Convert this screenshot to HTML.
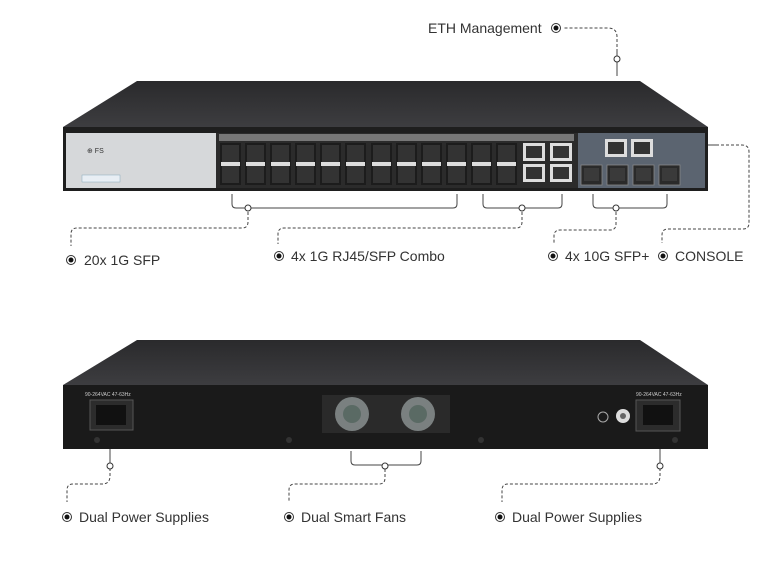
<!DOCTYPE html>
<html><head><meta charset="utf-8"><style>
body{margin:0;background:#fff;}
svg{display:block}
text{font-family:"Liberation Sans","DejaVu Sans",sans-serif;font-size:14px;fill:#333}
</style></head><body>
<svg width="783" height="570" viewBox="0 0 783 570" xmlns="http://www.w3.org/2000/svg">
<defs>
<linearGradient id="top" x1="0" y1="0" x2="0" y2="1"><stop offset="0" stop-color="#2a2a2c"/><stop offset="1" stop-color="#3d3d40"/></linearGradient>
<g id="sfp"><rect width="21" height="42" fill="#1c1c1c"/><rect x="2" y="2" width="17" height="17" fill="#333"/><rect x="2" y="23" width="17" height="17" fill="#333"/><rect x="1" y="19" width="19" height="4" fill="#ddd"/></g>
<g id="sfp1"><rect width="21" height="20" fill="#2a2a2a" stroke="#888" stroke-width="0.8"/><rect x="3" y="3" width="15" height="13" fill="#3a3a3a"/></g>
<g id="rj"><rect width="22" height="18" fill="#ddd"/><rect x="3" y="3" width="16" height="12" fill="#333"/></g>
<g id="dot"><circle r="4.5" fill="#fff" stroke="#333" stroke-width="1"/><circle r="2.5" fill="#111"/></g>
</defs>

<polygon points="137,81 640,81 708,127 63,127" fill="url(#top)"/>
<rect x="63" y="127" width="645" height="64" fill="#1e1e1e"/>
<rect x="66" y="133" width="150" height="55" fill="#d6d8da"/>
<text x="87" y="153" style="font-size:7px;fill:#333">⊕ FS</text>
<rect x="82" y="175" width="38" height="7" fill="#e8eef4" stroke="#8ab" stroke-width="0.5"/>
<rect x="216" y="133" width="362" height="55" fill="#2b2b2b"/>
<rect x="219" y="134" width="355" height="7" fill="#777"/>
<use href="#sfp" x="220" y="143"/><use href="#sfp" x="245" y="143"/><use href="#sfp" x="270" y="143"/><use href="#sfp" x="295" y="143"/>
<use href="#sfp" x="320" y="143"/><use href="#sfp" x="345" y="143"/><use href="#sfp" x="371" y="143"/><use href="#sfp" x="396" y="143"/>
<use href="#sfp" x="421" y="143"/><use href="#sfp" x="446" y="143"/><use href="#sfp" x="471" y="143"/><use href="#sfp" x="496" y="143"/>
<use href="#rj" x="523" y="143"/><use href="#rj" x="523" y="164"/><use href="#rj" x="550" y="143"/><use href="#rj" x="550" y="164"/>
<rect x="578" y="133" width="127" height="55" fill="#5b6470"/>
<use href="#rj" x="605" y="139"/><use href="#rj" x="631" y="139"/>
<use href="#sfp1" x="581" y="165"/><use href="#sfp1" x="607" y="165"/><use href="#sfp1" x="633" y="165"/><use href="#sfp1" x="659" y="165"/>

<g fill="none" stroke="#444" stroke-width="1">
<path d="M232,194 v10 q0,4 4,4 h217 q4,0 4,-4 v-10"/>
<path d="M483,194 v10 q0,4 4,4 h71 q4,0 4,-4 v-10"/>
<path d="M593,194 v10 q0,4 4,4 h66 q4,0 4,-4 v-10"/>
<path d="M617,76 v-25"/>
<path d="M708,145 h8"/>
</g>
<g fill="none" stroke="#444" stroke-width="1" stroke-dasharray="3,2">
<path d="M248,212 v10 q0,6 -6,6 h-165 q-6,0 -6,6 v12"/>
<path d="M522,212 v10 q0,6 -6,6 h-232 q-6,0 -6,6 v10"/>
<path d="M616,212 v12 q0,6 -6,6 h-50 q-6,0 -6,6 v8"/>
<path d="M617,52 v-15 q0,-9 -9,-9 h-45"/>
<path d="M716,145 h26 q7,0 7,7 v71 q0,6 -6,6 h-75 q-6,0 -6,6 v8"/>
</g>
<g fill="#fff" stroke="#333" stroke-width="1">
<circle cx="248" cy="208" r="3"/><circle cx="522" cy="208" r="3"/><circle cx="616" cy="208" r="3"/><circle cx="617" cy="59" r="3"/>
</g>
<use href="#dot" x="71" y="260"/><text x="84" y="265">20x 1G SFP</text>
<use href="#dot" x="279" y="256"/><text x="291" y="261">4x 1G RJ45/SFP Combo</text>
<use href="#dot" x="553" y="256"/><text x="565" y="261">4x 10G SFP+</text>
<use href="#dot" x="663" y="256"/><text x="675" y="261">CONSOLE</text>
<use href="#dot" x="556" y="28"/><text x="428" y="33">ETH Management</text>

<polygon points="137,340 640,340 708,385 63,385" fill="url(#top)"/>
<rect x="63" y="385" width="645" height="64" fill="#1a1a1a"/>
<text x="85" y="396" style="font-size:5px;fill:#ccc">90-264VAC 47-63Hz</text>
<rect x="90" y="400" width="43" height="30" fill="#2c2c2c" stroke="#555"/>
<rect x="96" y="405" width="30" height="20" fill="#111"/>
<text x="636" y="396" style="font-size:5px;fill:#ccc">90-264VAC 47-63Hz</text>
<rect x="636" y="400" width="44" height="31" fill="#2c2c2c" stroke="#555"/>
<rect x="643" y="405" width="30" height="20" fill="#111"/>
<circle cx="603" cy="417" r="5" fill="none" stroke="#aaa"/>
<circle cx="623" cy="416" r="7" fill="#ddd"/><circle cx="623" cy="416" r="3" fill="#666"/>
<rect x="322" y="395" width="128" height="38" fill="#2a2a2a"/>
<circle cx="352" cy="414" r="17" fill="#7a8080"/><circle cx="418" cy="414" r="17" fill="#7a8080"/>
<circle cx="352" cy="414" r="9" fill="#5a6a64"/><circle cx="418" cy="414" r="9" fill="#5a6a64"/>
<g fill="#333"><circle cx="97" cy="440" r="3"/><circle cx="289" cy="440" r="3"/><circle cx="481" cy="440" r="3"/><circle cx="675" cy="440" r="3"/></g>

<g fill="none" stroke="#444" stroke-width="1">
<path d="M110,449 v15"/><path d="M660,449 v15"/>
<path d="M351,451 v10 q0,4 4,4 h62 q4,0 4,-4 v-10"/>
</g>
<g fill="none" stroke="#444" stroke-width="1" stroke-dasharray="3,2">
<path d="M110,468 v8 q0,8 -8,8 h-29 q-6,0 -6,6 v12"/>
<path d="M385,469 v9 q0,6 -6,6 h-84 q-6,0 -6,6 v12"/>
<path d="M660,468 v8 q0,8 -8,8 h-144 q-6,0 -6,6 v12"/>
</g>
<g fill="#fff" stroke="#333" stroke-width="1">
<circle cx="110" cy="466" r="3"/><circle cx="385" cy="466" r="3"/><circle cx="660" cy="466" r="3"/>
</g>
<use href="#dot" x="67" y="517"/><text x="79" y="522">Dual Power Supplies</text>
<use href="#dot" x="289" y="517"/><text x="301" y="522">Dual Smart Fans</text>
<use href="#dot" x="500" y="517"/><text x="512" y="522">Dual Power Supplies</text>
</svg>
</body></html>
